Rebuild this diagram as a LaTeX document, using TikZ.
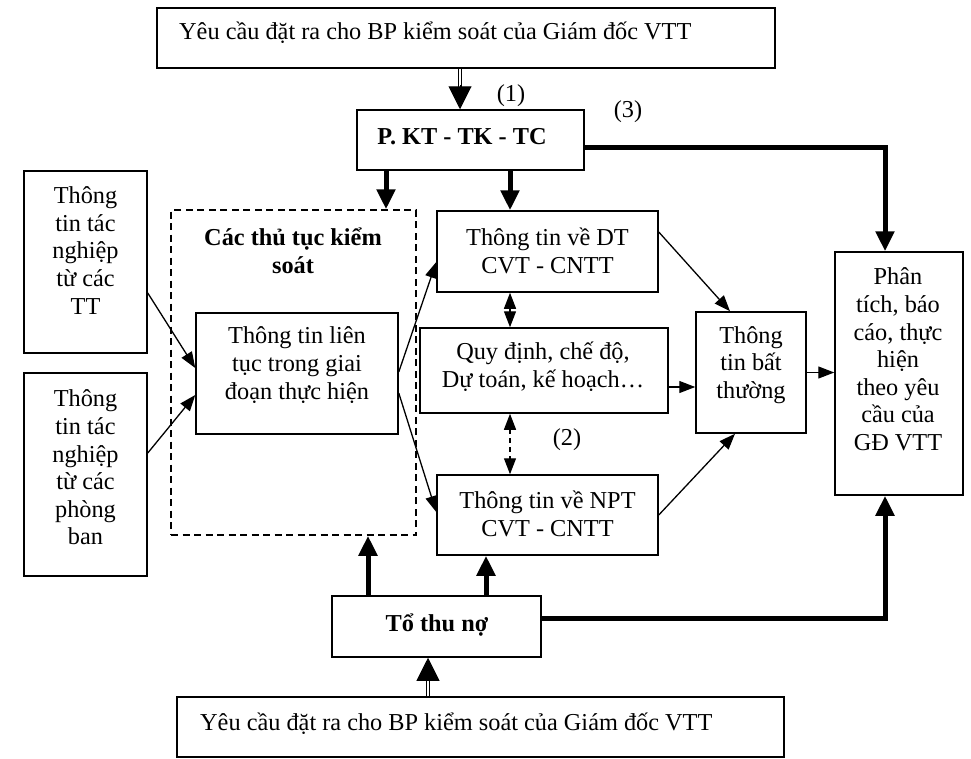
\documentclass[tikz,border=0pt]{standalone}
\usepackage{fontspec}
\setmainfont{Liberation Serif}
\usetikzlibrary{arrows.meta}
\begin{document}
\begin{tikzpicture}[x=1pt,y=-1pt,
  box/.style={draw, line width=1.5pt, inner sep=0pt, rectangle},
  dashbox/.style={draw, line width=1.5pt, dash pattern=on 7pt off 4.5pt, inner sep=0pt, rectangle},
  txt/.style={inner sep=0pt, align=center, font=\fontsize{24.3}{27.6}\selectfont},
  btxt/.style={inner sep=0pt, align=center, font=\fontsize{24.3}{27.6}\selectfont\bfseries},
  arr/.style={line width=1.3pt, -{Triangle[width=12pt,length=16pt]}},
  arrboth/.style={line width=1.3pt, {Triangle[width=12pt,length=16pt]}-{Triangle[width=12pt,length=16pt]}},
  heavy/.style={line width=5pt, -{Triangle[width=18pt,length=20pt]}},
  dbl/.style={double, double distance=2.2pt, line width=1.2pt},
  bighead/.style={line width=1pt, -{Triangle[width=23pt,length=23pt]}},
]
\useasboundingbox (0,0) rectangle (971,758);

% boxes
\node[box, minimum width=618, minimum height=60] (top) at (466,38) {};
\node[box, minimum width=227, minimum height=60] (pk) at (470.5,140) {};
\node[box, minimum width=123, minimum height=182] (tt) at (85.5,262) {};
\node[box, minimum width=123, minimum height=203] (pb) at (85.5,474.5) {};
\node[dashbox, minimum width=245, minimum height=325] (dash) at (293.5,372.5) {};
\node[box, minimum width=202, minimum height=121] (lt) at (297,373.5) {};
\node[box, minimum width=221, minimum height=81] (dt) at (547.5,251.5) {};
\node[box, minimum width=248, minimum height=85] (qd) at (544,370.5) {};
\node[box, minimum width=221, minimum height=80] (npt) at (547.5,515) {};
\node[box, minimum width=110, minimum height=121] (bt) at (751,372.5) {};
\node[box, minimum width=128, minimum height=243] (pt) at (899,373.5) {};
\node[box, minimum width=209, minimum height=61] (ttn) at (436.5,626.5) {};
\node[box, minimum width=607, minimum height=60] (bot) at (480.5,727) {};

% texts
\node[txt, anchor=base west] (top-t) at (179,39) {Yêu cầu đặt ra cho BP kiểm soát của Giám đốc VTT};
\node[btxt] (pk-t) at (462,137) {P. KT - TK - TC};
\node[txt] (tt-t) at (85.5,250.5) {Thông\\tin tác\\nghiệp\\từ các\\TT};
\node[txt] (pb-t) at (85.5,467.5) {Thông\\tin tác\\nghiệp\\từ các\\phòng\\ban};
\node[btxt] (dash-t) at (293,251) {Các thủ tục kiểm\\soát};
\node[txt] (lt-t) at (297,365) {Thông tin liên\\tục trong giai\\đoạn thực hiện};
\node[txt] (dt-t) at (547.5,251) {Thông tin về DT\\CVT - CNTT};
\node[txt] (qd-t) at (543,367) {Quy định, chế độ,\\Dự toán, kế hoạch…};
\node[txt] (npt-t) at (547.5,514) {Thông tin về NPT\\CVT - CNTT};
\node[txt] (bt-t) at (751,365) {Thông\\tin bất\\thường};
\node[txt] (pt-t) at (898,359.5) {Phân\\tích, báo\\cáo, thực\\hiện\\theo yêu\\cầu của\\GĐ VTT};
\node[btxt] (ttn-t) at (437,625) {Tổ thu nợ};
\node[txt, anchor=base west] (bot-t) at (200,730) {Yêu cầu đặt ra cho BP kiểm soát của Giám đốc VTT};
\node[txt] (l1) at (511,96) {(1)};
\node[txt] (l2) at (567,440) {(2)};
\node[txt] (l3) at (628,112) {(3)};

% double-line arrows from the request boxes
\coordinate (a1) at (460,0 |- top.south);
\draw[dbl] (a1) -- ++(0,18);
\draw[bighead] ([yshift=-16pt]a1) -- (460,0 |- pk.north);
\coordinate (a2) at (428,0 |- bot.north);
\draw[dbl] (a2) -- ++(0,-18);
\draw[bighead] ([yshift=16pt]a2) -- (428,0 |- ttn.south);

% heavy arrows
\draw[heavy] (386,0 |- pk.south) -- (386,0 |- dash.north);
\draw[heavy] (510,0 |- pk.south) -- (510,0 |- dt.north);
\draw[heavy] (pk.east |- 0,147) -- (885,147) -- (885,0 |- pt.north);
\draw[heavy] (368,0 |- ttn.north) -- (368,0 |- dash.south);
\draw[heavy] (486,0 |- ttn.north) -- (486,0 |- npt.south);
\draw[heavy] (ttn.east |- 0,618) -- (885,618) -- (885,0 |- pt.south);

% thin arrows
\draw[arr] (tt.east |- 0,293) -- (lt.west |- 0,368);
\draw[arr] (pb.east |- 0,453) -- (lt.west |- 0,395);
\draw[arr] (lt.east |- 0,372) -- (dt.west |- 0,262);
\draw[arr] (lt.east |- 0,393) -- (npt.west |- 0,512);
\draw[arrboth] (510,0 |- dt.south) -- (510,0 |- qd.north);
\draw[arrboth, dash pattern=on 5pt off 4pt] (510,0 |- qd.south) -- (510,0 |- npt.north);
\draw[arr] (dt.east |- 0,232) -- (730,0 |- bt.north);
\draw[arr] (qd.east |- 0,387) -- (bt.west |- 0,387);
\draw[arr] (npt.east) -- (735,0 |- bt.south);
\draw[arr] (bt.east) -- (pt.west |- bt.east);
\end{tikzpicture}
\end{document}
